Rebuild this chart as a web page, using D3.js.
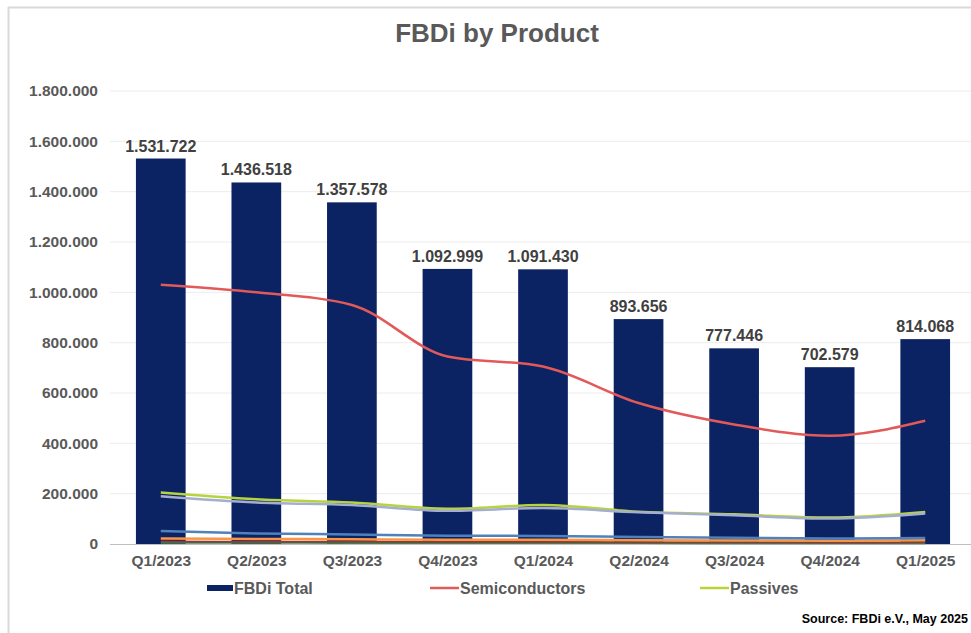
<!DOCTYPE html>
<html>
<head>
<meta charset="utf-8">
<script src="https://cdn.jsdelivr.net/npm/d3@7"></script>
<style>
  body { margin: 0; background: #fff; }
  svg { display: block; font-family: "Liberation Sans", Arial, sans-serif; }
</style>
</head>
<body>
<svg id="chart" width="971" height="633"></svg>
<script>
const quarters = ["Q1/2023", "Q2/2023", "Q3/2023", "Q4/2023", "Q1/2024", "Q2/2024", "Q3/2024", "Q4/2024", "Q1/2025"];
const total = [1531722, 1436518, 1357578, 1092999, 1091430, 893656, 777446, 702579, 814068];
const semiconductors = [1030000, 1000000, 950000, 745000, 705000, 560000, 475000, 430000, 490000];
const passives = [205000, 178000, 165000, 140000, 155000, 128000, 118000, 105000, 127000];
const electromech = [190000, 165000, 155000, 132000, 143000, 126000, 114000, 101000, 121000];
const displays = [52000, 42000, 38000, 33000, 32000, 28000, 25000, 22000, 24000];
const power = [22000, 20000, 19000, 17000, 17000, 15000, 14000, 13000, 15000];
const others = [10000, 9000, 9000, 8000, 8000, 7000, 7000, 6000, 7000];
const storage = [5000, 5000, 4000, 4000, 4000, 4000, 3000, 3000, 3000];
const yTicks = [0, 200000, 400000, 600000, 800000, 1000000, 1200000, 1400000, 1600000, 1800000];

const svg = d3.select("#chart");
const fmt = v => d3.format(",")(v).replace(/,/g, ".");

// frame
svg.append("line").attr("x1", 8).attr("x2", 971).attr("y1", 7.5).attr("y2", 7.5)
  .attr("stroke", "#d9d9d9").attr("stroke-width", 2);
svg.append("line").attr("x1", 8.5).attr("x2", 8.5).attr("y1", 7).attr("y2", 633)
  .attr("stroke", "#d9d9d9").attr("stroke-width", 2);

const x = d3.scalePoint().domain(quarters).range([113, 973]).padding(0.5);
const y = d3.scaleLinear().domain([0, 1800000]).range([544, 91]);
const barW = x.step() * 0.52;

// gridlines
svg.append("g").selectAll("line").data(yTicks.slice(1)).join("line")
  .attr("x1", 110).attr("x2", 971)
  .attr("y1", d => y(d)).attr("y2", d => y(d))
  .attr("stroke", "#ececec").attr("stroke-width", 1);

// y axis labels
const yAxis = d3.axisLeft(y).tickValues(yTicks).tickFormat(fmt).tickSize(0).tickPadding(0);
svg.append("g").attr("transform", "translate(98,0)").call(yAxis)
  .call(g => g.select(".domain").remove())
  .selectAll("text").attr("fill", "#595959").attr("font-size", 15.5).attr("font-weight", "bold")
  .attr("font-family", "Liberation Sans, Arial, sans-serif");

// bars
svg.append("g").selectAll("rect").data(total).join("rect")
  .attr("x", (d, i) => x(quarters[i]) - barW / 2)
  .attr("width", barW)
  .attr("y", d => y(d))
  .attr("height", d => y(0) - y(d))
  .attr("fill", "#0b2263");

// bar labels
svg.append("g").selectAll("text").data(total).join("text")
  .attr("x", (d, i) => x(quarters[i]))
  .attr("y", d => y(d) - 7)
  .attr("text-anchor", "middle")
  .attr("font-size", 16).attr("font-weight", "bold").attr("fill", "#404040")
  .text(fmt);

// baseline
svg.append("line").attr("x1", 110).attr("x2", 971).attr("y1", y(0) + 0.5).attr("y2", y(0) + 0.5)
  .attr("stroke", "#bfbfbf").attr("stroke-width", 1);

// lines
const line = d3.line().x((d, i) => x(quarters[i])).y(d => y(d)).curve(d3.curveMonotoneX);
const series = [
  { values: storage, color: "#2e8b57", w: 2 },
  { values: others, color: "#953735", w: 2 },
  { values: power, color: "#f79646", w: 2.5 },
  { values: displays, color: "#4f81bd", w: 2.5 },
  { values: passives, color: "#b8d43c", w: 2.5 },
  { values: electromech, color: "#a6aed0", w: 2.5 },
  { values: semiconductors, color: "#e2595a", w: 2.5 }
];
svg.append("g").selectAll("path").data(series).join("path")
  .attr("d", d => line(d.values))
  .attr("fill", "none")
  .attr("stroke", d => d.color)
  .attr("stroke-width", d => d.w);

// x axis labels
const xAxis = d3.axisBottom(x).tickSize(0).tickPadding(0);
svg.append("g").attr("transform", "translate(0,555)").call(xAxis)
  .call(g => g.select(".domain").remove())
  .selectAll("text").attr("fill", "#595959").attr("font-size", 15.5).attr("font-weight", "bold")
  .attr("font-family", "Liberation Sans, Arial, sans-serif");

// title
svg.append("text").attr("x", 497).attr("y", 42).attr("text-anchor", "middle")
  .attr("font-size", 26).attr("font-weight", "bold").attr("fill", "#595959")
  .text("FBDi by Product");

// legend
const legend = svg.append("g").attr("font-size", 16).attr("font-weight", "bold").attr("fill", "#595959");
legend.append("rect").attr("x", 207).attr("y", 585).attr("width", 26).attr("height", 6).attr("fill", "#0b2263");
legend.append("text").attr("x", 234).attr("y", 594).text("FBDi Total");
legend.append("line").attr("x1", 430).attr("x2", 459).attr("y1", 588).attr("y2", 588)
  .attr("stroke", "#e2595a").attr("stroke-width", 2.5);
legend.append("text").attr("x", 460).attr("y", 594).text("Semiconductors");
legend.append("line").attr("x1", 700).attr("x2", 729).attr("y1", 588).attr("y2", 588)
  .attr("stroke", "#b8d43c").attr("stroke-width", 2.5);
legend.append("text").attr("x", 730).attr("y", 594).text("Passives");

// source
svg.append("text").attr("x", 968).attr("y", 623).attr("text-anchor", "end")
  .attr("font-size", 12.5).attr("font-weight", "bold").attr("fill", "#000")
  .text("Source: FBDi e.V., May 2025");
</script>
</body>
</html>
